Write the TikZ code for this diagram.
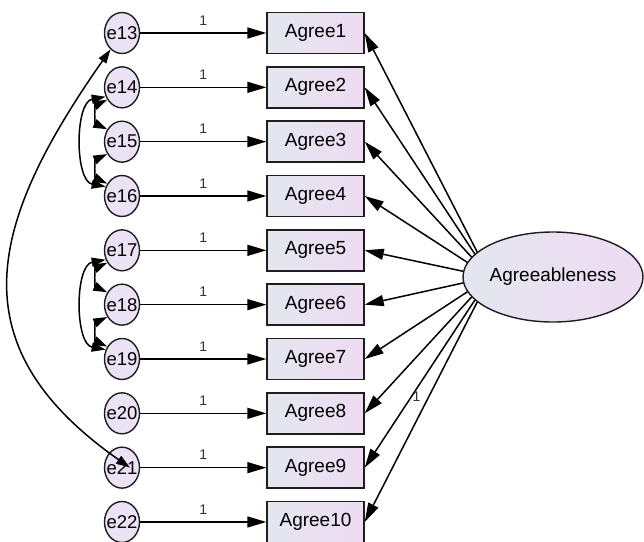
\documentclass[tikz,border=0pt]{standalone}
\usepackage{fontspec}
\setmainfont{Liberation Sans}
\usetikzlibrary{arrows.meta,shapes.geometric,backgrounds}

\definecolor{boxleft}{RGB}{228,230,240}
\definecolor{boxright}{RGB}{238,220,242}
\definecolor{errfill}{RGB}{236,226,245}
\definecolor{linegray}{RGB}{30,30,30}

\begin{document}
\begin{tikzpicture}[x=1pt,y=1pt,
    errvar/.style={draw=linegray,line width=1.4pt,ellipse,fill=errfill,minimum width=35pt,minimum height=41pt,inner sep=0pt,font=\fontsize{18.5}{18}\selectfont},
    obsvar/.style={draw=linegray,line width=1.4pt,left color=boxleft,right color=boxright,minimum width=97pt,minimum height=41pt,inner sep=0pt,font=\fontsize{19}{18}\selectfont},
    latvar/.style={draw=linegray,line width=1.4pt,ellipse,left color=boxleft,right color=boxright,minimum width=180pt,minimum height=90pt,inner sep=0pt,font=\fontsize{19}{18}\selectfont},
    regpath/.style={line width=1.5pt,-{Triangle[length=19pt,width=11pt]}},
    covpath/.style={line width=1.5pt,{Triangle[length=14pt,width=9pt]}-{Triangle[length=14pt,width=9pt]}},
    wt/.style={font=\fontsize{14}{14}\selectfont,inner sep=0pt,text=black!80}]

    \useasboundingbox (0,0) rectangle (644,-541);

    % error terms and indicators
    \foreach \i in {1,...,10}{
        \pgfmathtruncatemacro{\e}{\i+12}
        \node[errvar] (e\e) at (122,{-33-54.33*(\i-1)}) {\makebox[0pt]{e\e}};
        \node[obsvar] (a\i) at (315.5,{-33-54.33*(\i-1)}) {Agree\i};
        \draw[regpath] (e\e) -- node[wt,above=7pt]{1} (a\i);
    }

    % latent factor
    \node[latvar] (Agr) at (553,-277) {Agreeableness};
    \coordinate (src) at ([xshift=-63]Agr.center);
    \begin{scope}[on background layer]
        \foreach \i in {1,...,10}
            \draw[regpath] (src) -- (a\i.east);
    \end{scope}
    \path (src) -- node[wt,pos=0.49,left=8pt]{1} (a10.east);

    % covariances
    \draw[covpath] (e13.235) to[out=235,in=145,looseness=1.3] ([xshift=8]e21.center);
    \draw[covpath] (e14.220) to[out=205,in=155,looseness=1.2] (e15.140);
    \draw[covpath] (e15.220) to[out=205,in=155,looseness=1.2] (e16.140);
    \draw[covpath] (e14.210) to[out=190,in=170,looseness=0.9] (e16.150);
    \draw[covpath] (e17.220) to[out=205,in=155,looseness=1.2] (e18.140);
    \draw[covpath] (e18.220) to[out=205,in=155,looseness=1.2] (e19.140);
    \draw[covpath] (e17.210) to[out=190,in=170,looseness=0.9] (e19.150);
\end{tikzpicture}
\end{document}
